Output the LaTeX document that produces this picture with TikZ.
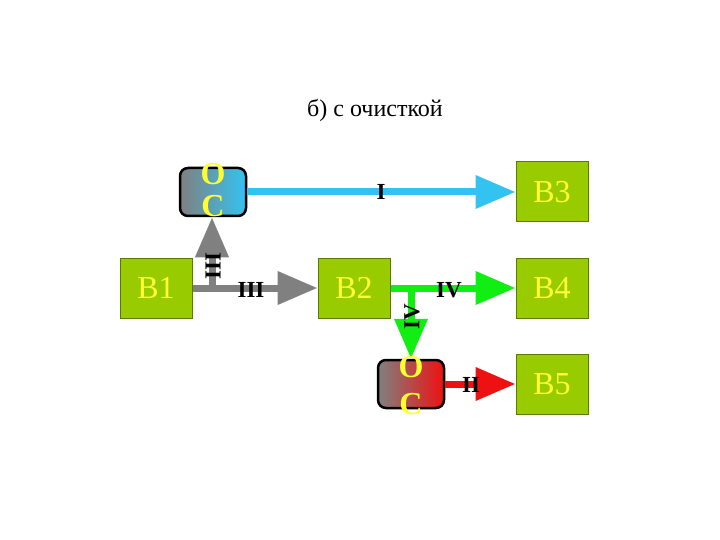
\documentclass[tikz,border=0pt]{standalone}
\usepackage{fontspec}
\setmainfont{Liberation Serif}
\usetikzlibrary{arrows.meta}
\definecolor{boxgreen}{HTML}{99CC00}
\definecolor{boxedge}{HTML}{5C7A00}
\definecolor{txtyellow}{HTML}{FFFF33}
\definecolor{cyanline}{HTML}{33C3F0}
\definecolor{grayline}{HTML}{808080}
\definecolor{greenline}{HTML}{11EE11}
\definecolor{redline}{HTML}{EE1111}
\tikzset{
  bbox/.style={draw=boxedge, line width=1pt, fill=boxgreen, minimum width=72pt, minimum height=60pt, inner sep=0pt, text=txtyellow, font=\fontsize{32}{32}\selectfont},
  ocbox/.style={draw=black, line width=2.5pt, rounded corners=8pt, minimum width=66pt, minimum height=48pt, inner sep=0pt},
  octxt/.style={text=txtyellow, font=\fontsize{32}{32}\selectfont\bfseries, inner sep=0pt},
  conn/.style={line width=7pt, -{Triangle[length=40pt,width=32pt]}},
  lbl/.style={font=\fontsize{23}{23}\selectfont\bfseries, inner sep=0pt, text=black},
}
\begin{document}
\begin{tikzpicture}[x=1pt,y=-1pt]
\useasboundingbox (0,0) rectangle (720,540);
\node[font=\fontsize{24}{24}\selectfont] (title) at (375,110) {б) с очисткой};
\node[bbox] (b1) at (156,288) {B1};
\node[bbox] (b2) at (354,288) {B2};
\node[bbox] (b3) at (552,192) {B3};
\node[bbox] (b4) at (552,288) {B4};
\node[bbox] (b5) at (552,384) {B5};
\node[ocbox, left color=grayline, right color=cyanline] (oc1) at (213,192) {};
\node[ocbox, left color=grayline, right color=redline] (oc2) at (411,384) {};
% connectors
\draw[conn, color=cyanline] (oc1.east) -- (b3.west);
\coordinate (j1) at (212,288);
\coordinate (j2) at (411,288);
\draw[conn, color=grayline] (b1.east) -- (b2.west);
\draw[conn, color=grayline] (j1) -- (j1 |- oc1.south);
\draw[conn, color=greenline] (b2.east) -- (b4.west);
\draw[conn, color=greenline] (j2) -- (oc2.north);
\draw[conn, color=redline] (oc2.east) -- (b5.west);
% OC texts
\node[octxt] (o1) at (213,174) {О};
\node[octxt] (c1) at (213,206) {С};
\node[octxt] (o2) at (411,367) {О};
\node[octxt] (c2) at (411,404) {С};
% labels
\node[lbl] (l1) at (381,192) {I};
\node[lbl] (l3h) at (251,290) {III};
\node[lbl, rotate=90] (l3v) at (213,266) {III};
\node[lbl] (l4h) at (449,290) {IV};
\node[lbl, rotate=90] (l4v) at (412,317) {IV};
\node[lbl] (l2) at (471,385) {II};
\end{tikzpicture}
\end{document}
